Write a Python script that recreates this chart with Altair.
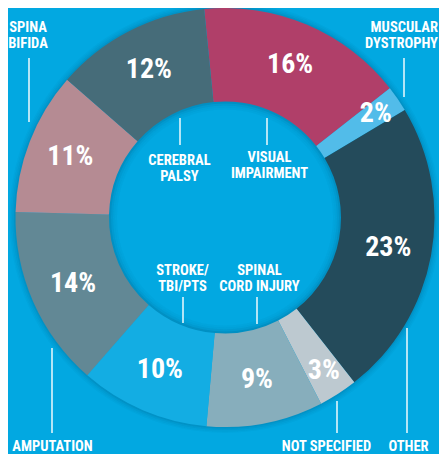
import math
import altair as alt
import pandas as pd

# ---- data (clockwise from top) ----
categories = ["VISUAL IMPAIRMENT", "MUSCULAR DYSTROPHY", "OTHER", "NOT SPECIFIED",
              "SPINAL CORD INJURY", "STROKE/TBI/PTS", "AMPUTATION", "SPINA BIFIDA",
              "CEREBRAL PALSY"]
values = [16, 2, 23, 3, 9, 10, 14, 11, 12]
colors = ["#b03f69", "#52bce9", "#244b5b", "#bdc9d0", "#87aebc",
          "#13ade3", "#628895", "#b58b93", "#466c79"]

# annotation texts (outer & inner captions)
ann_texts = ["SPINA\nBIFIDA", "AMPUTATION", "NOT SPECIFIED", "OTHER",
             "CEREBRAL\nPALSY", "VISUAL\nIMPAIRMENT", "STROKE/\nTBI/PTS", "SPINAL\nCORD INJURY"]
ann_right_texts = ["MUSCULAR\nDYSTROPHY"]

# ---- layout (pixels in chart coords; first-line centre for captions) ----
ann_x = [20, 44.5, 318.5, 400.5, 171.5, 261.5, 174.5, 251.5]
ann_y = [19.5, 438.5, 438.5, 438.5, 153, 150, 263, 263]
ann_right_x = [430]
ann_right_y = [19.5]
rule_x = [21, 396, 44, 329, 399, 172, 259, 175, 249]
rule_y1 = [50, 50, 340, 393, 320, 110, 110, 289, 289]
rule_y2 = [114, 89, 425, 425, 425, 137, 137, 315, 316]

CX, CY = 217, 209.5
R_OUT, R_IN = 209.5, 116
START = math.radians(-5.7)
BG = "#02a8e1"
FONT = "Roboto Condensed, Liberation Sans Narrow, DejaVu Sans Condensed, sans-serif"
SHADOW = "#003a5c"

df = pd.DataFrame({
    "cat": categories,
    "value": values,
    "order": list(range(len(values))),
    "label": [f"{v}%" for v in values],
})
ann = pd.DataFrame({"text": ann_texts, "x": ann_x, "y": ann_y})
ann_r = pd.DataFrame({"text": ann_right_texts, "x": ann_right_x, "y": ann_right_y})
rules = pd.DataFrame({"x": rule_x, "y1": rule_y1, "y2": rule_y2})
one = pd.DataFrame({"k": [0]})

# soft shadows around the ring (outside and inside the hole)
shadow_rings = [(R_OUT - 1, R_OUT + 1.5, 0.20), (R_OUT + 1.5, R_OUT + 3, 0.12),
                (R_OUT + 3, R_OUT + 4.5, 0.07), (R_OUT + 4.5, R_OUT + 6, 0.03),
                (R_IN - 2, R_IN + 1, 0.22), (R_IN - 4, R_IN - 2, 0.12),
                (R_IN - 6, R_IN - 4, 0.06), (R_IN - 8, R_IN - 6, 0.03)]
shadow_layers = [
    alt.Chart(one).mark_arc(theta=0, theta2=2 * math.pi, innerRadius=a, outerRadius=b,
                            color=SHADOW, opacity=o).encode(x=alt.value(CX), y=alt.value(CY))
    for a, b, o in shadow_rings
]

theta_scale = alt.Scale(range=[START, START + 2 * math.pi])
base = alt.Chart(df).encode(
    theta=alt.Theta("value:Q", stack=True, scale=theta_scale),
    order=alt.Order("order:Q"),
    x=alt.value(CX),
    y=alt.value(CY),
)

arcs = base.mark_arc(innerRadius=R_IN, outerRadius=R_OUT).encode(
    color=alt.Color("cat:N", scale=alt.Scale(domain=categories, range=colors), legend=None)
)

pct_big = base.mark_text(radius=166, font=FONT, fontSize=28, fontWeight="bold",
                         color="white", baseline="middle", align="center").encode(
    text=alt.condition("datum.value >= 5", "label:N", alt.value(""))
)
pct_small = base.mark_text(radius=183, font=FONT, fontSize=28, fontWeight="bold",
                           color="white", baseline="middle", align="center").encode(
    text=alt.condition("datum.value < 5", "label:N", alt.value(""))
)

rule_layer = alt.Chart(rules).mark_rule(color="white", strokeWidth=1.4).encode(
    x=alt.X("x:Q", scale=None, axis=None),
    y=alt.Y("y1:Q", scale=None, axis=None),
    y2="y2:Q",
)

text_style = dict(font=FONT, fontSize=14.5, fontWeight="bold", color="white",
                  lineBreak="\n", lineHeight=16, baseline="middle")
ann_layer = alt.Chart(ann).mark_text(align="center", **text_style).encode(
    x=alt.X("x:Q", scale=None, axis=None),
    y=alt.Y("y:Q", scale=None, axis=None),
    text="text:N",
)
ann_right_layer = alt.Chart(ann_r).mark_text(align="right", **text_style).encode(
    x=alt.X("x:Q", scale=None, axis=None),
    y=alt.Y("y:Q", scale=None, axis=None),
    text="text:N",
)

chart = alt.layer(*shadow_layers, arcs, pct_big, pct_small, rule_layer,
                  ann_layer, ann_right_layer).properties(
    width=431, height=446, background=BG, padding=0, autosize="none"
).configure_view(stroke=None)

chart.save("out.html", embed_options={"renderer": "svg", "actions": False})
